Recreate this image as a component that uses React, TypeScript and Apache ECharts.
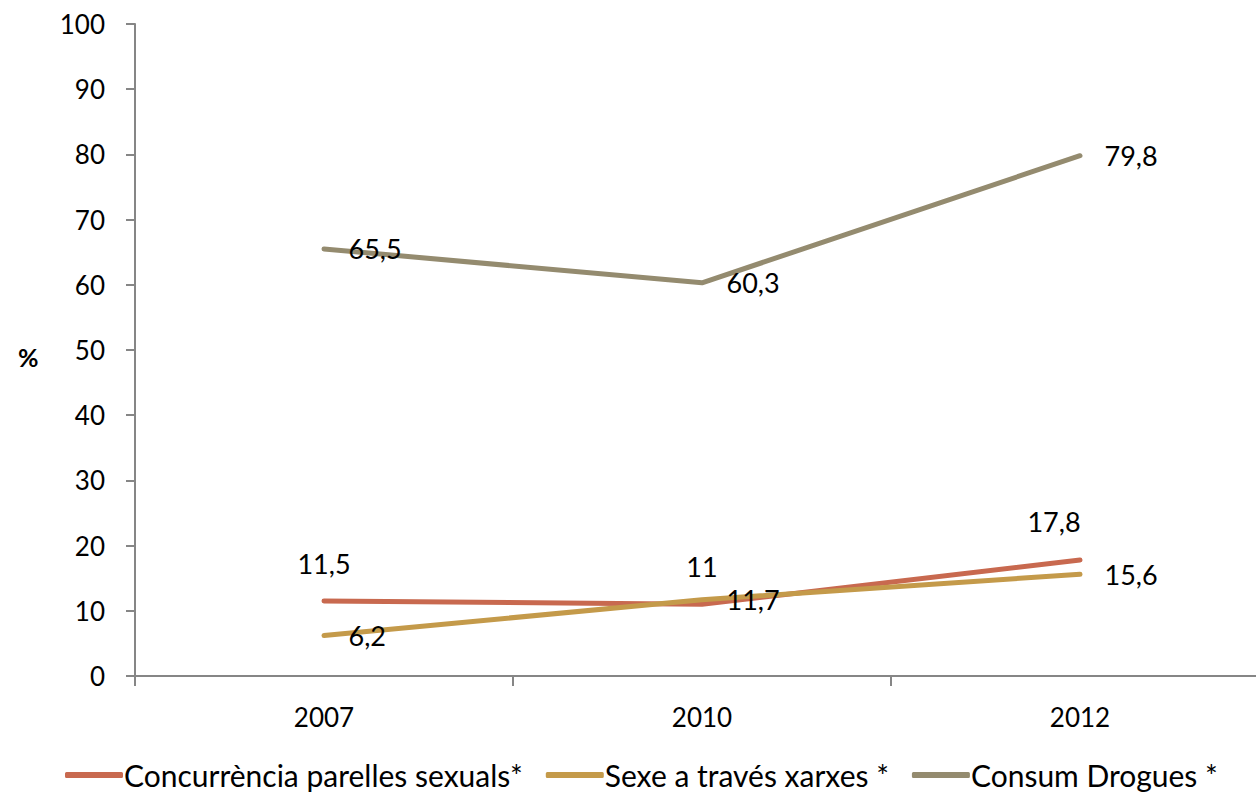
import React, { useEffect, useRef } from "react";
import * as echarts from "echarts";

const years = ["2007", "2010", "2012"];
const concurrencia = [11.5, 11, 17.8];
const sexeXarxes = [6.2, 11.7, 15.6];
const consumDrogues = [65.5, 60.3, 79.8];
const seriesNames = [
  "Concurrència parelles sexuals*",
  "Sexe a través xarxes *",
  "Consum Drogues *",
];
const colors = ["#C8694F", "#C49A4A", "#948B6F"];

const FONT = "Lato, 'Open Sans', sans-serif";

export default function App() {
  const ref = useRef<HTMLDivElement>(null);
  useEffect(() => {
    if (!ref.current) return;
    const chart = echarts.init(ref.current, undefined, { renderer: "svg" });
    const labelBase = {
      show: true,
      color: "#000",
      fontSize: 27,
      fontFamily: FONT,
      formatter: (p: any) => String(p.value).replace(".", ","),
    };
    const mk = (i: number, data: any[], label: any) => ({
      name: seriesNames[i],
      type: "line",
      symbol: "circle",
      symbolSize: 1,
      showSymbol: true,
      data,
      lineStyle: { color: colors[i], width: 5, cap: "round" },
      itemStyle: { color: "transparent" },
      label: { ...labelBase, ...label },
    });
    chart.setOption({
      animation: false,
      textStyle: { fontFamily: FONT },
      grid: { left: 135, top: 24, height: 652, width: 1134, outerBoundsMode: "none", containLabel: false },
      xAxis: {
        type: "category",
        data: years,
        boundaryGap: true,
        axisLine: { lineStyle: { color: "#868686", width: 2 } },
        axisTick: { show: true, length: 10, lineStyle: { color: "#868686", width: 2 } },
        axisLabel: { color: "#000", fontSize: 26, fontFamily: FONT, margin: 28 },
      },
      yAxis: {
        type: "value",
        min: 0,
        max: 100,
        interval: 10,
        splitLine: { show: false },
        axisLine: { show: true, lineStyle: { color: "#868686", width: 2 } },
        axisTick: { show: true, length: 9, lineStyle: { color: "#868686", width: 2 } },
        axisLabel: { color: "#000", fontSize: 26, fontFamily: FONT, margin: 30 },
      },
      legend: {
        bottom: 0,
        left: 60,
        itemWidth: 58,
        itemHeight: 6,
        itemGap: 23,
        icon: "roundRect",
        textStyle: { color: "#000", fontSize: 30, fontFamily: FONT, padding: [0, 0, 0, -4] },
        data: seriesNames.map((n, i) => ({ name: n, itemStyle: { color: colors[i] } })),
      },
      graphic: [
        {
          type: "text",
          left: 18,
          top: 344,
          style: { text: "%", fontSize: 25, fontWeight: "bold", fontFamily: FONT, fill: "#000" },
        },
      ],
      series: [
        mk(
          0,
          concurrencia.map((v, i) => (i === 2 ? { value: v, label: { offset: [-26, 0] } } : v)),
          { position: "top", distance: 24 }
        ),
        mk(1, sexeXarxes, { position: "right", distance: 24 }),
        mk(2, consumDrogues, { position: "right", distance: 24 }),
      ],
    });
    return () => chart.dispose();
  }, []);
  return (
    <div
      ref={ref}
      style={{ position: "absolute", left: 0, top: 0, width: 1256, height: 795 }}
    />
  );
}
